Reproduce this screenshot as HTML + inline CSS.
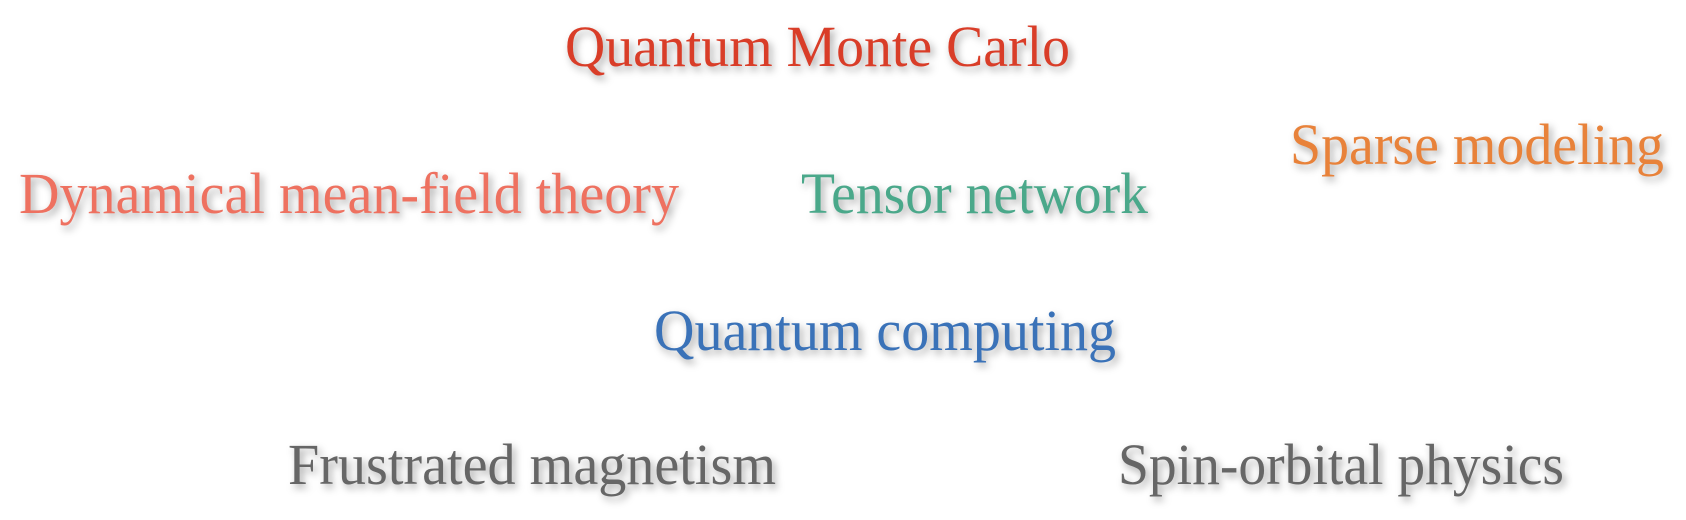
<!DOCTYPE html>
<html><head><meta charset="utf-8"><style>
html,body{margin:0;padding:0;background:#fff;}
svg{display:block}
text{font-family:"Liberation Serif",serif;font-size:58px;filter:drop-shadow(3px 4px 4px rgba(0,0,0,0.35));}
</style></head><body>
<svg width="1686" height="520" viewBox="0 0 1686 520" xmlns="http://www.w3.org/2000/svg">
<text x="565" y="66" textLength="505" lengthAdjust="spacingAndGlyphs" fill="#d93d28">Quantum Monte Carlo</text>
<text x="1290" y="164" textLength="374" lengthAdjust="spacingAndGlyphs" fill="#e8823a">Sparse modeling</text>
<text x="19" y="213" textLength="660" lengthAdjust="spacingAndGlyphs" fill="#ee7160">Dynamical mean-field theory</text>
<text x="801" y="213" textLength="347" lengthAdjust="spacingAndGlyphs" fill="#4aa88a">Tensor network</text>
<text x="654" y="350" textLength="462" lengthAdjust="spacingAndGlyphs" fill="#3a72b8">Quantum computing</text>
<text x="288" y="484" textLength="488" lengthAdjust="spacingAndGlyphs" fill="#666666">Frustrated magnetism</text>
<text x="1118" y="484" textLength="446" lengthAdjust="spacingAndGlyphs" fill="#666666">Spin-orbital physics</text>
</svg>
</body></html>
